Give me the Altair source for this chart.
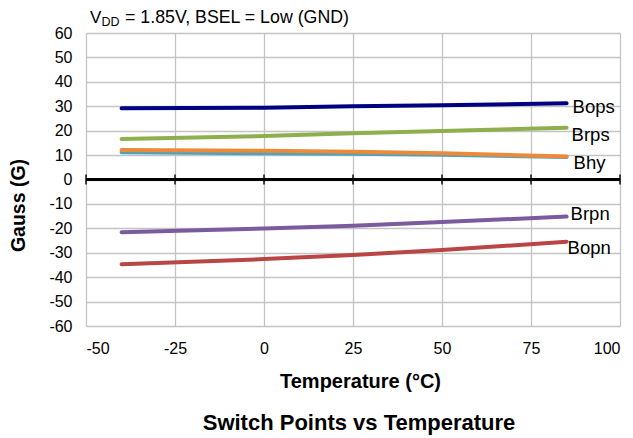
import altair as alt
import pandas as pd

temps = [-40, 0, 25, 50, 85]
bops = [29.2, 29.4, 30.0, 30.4, 31.2]
brps = [16.6, 17.8, 18.9, 19.9, 21.2]
bhyn = [11.2, 10.7, 10.5, 10.1, 9.2]
bhys = [12.1, 11.8, 11.4, 10.7, 9.4]
brpn = [-21.6, -20.1, -18.9, -17.4, -15.2]
bopn = [-34.7, -32.6, -30.9, -28.9, -25.5]

series_names = ["Bops", "Brps", "Bhyn", "Bhys", "Brpn", "Bopn"]
series_values = [bops, brps, bhyn, bhys, brpn, bopn]
series_colors = ["#000080", "#8db04c", "#4aa3c4", "#ec8a38", "#7a5c9e", "#b94644"]

end_labels = ["Bops", "Brps", "Bhy", None, "Brpn", "Bopn"]

x_ticks = [-50, -25, 0, 25, 50, 75, 100]
y_ticks = [-60, -50, -40, -30, -20, -10, 0, 10, 20, 30, 40, 50, 60]

title_main = "Switch Points vs Temperature"
sub_v = "V"
sub_dd = "DD"
sub_rest = "= 1.85V, BSEL = Low (GND)"

FONT = "Liberation Sans"

rows = []
for name, vals in zip(series_names, series_values):
    for t, v in zip(temps, vals):
        rows.append({"series": name, "temp": t, "gauss": v})
df = pd.DataFrame(rows)

xscale = alt.Scale(domain=[-50, 100], nice=False)
yscale = alt.Scale(domain=[-60, 60], nice=False)

xaxis = alt.Axis(values=x_ticks, title="Temperature (°C)", grid=True, gridColor="#c4c4c4",
                 gridWidth=1.3, domain=False, ticks=False, labelPadding=14, labelFontSize=16,
                 labelColor="#000", labelFont=FONT, labelExpr="'' + datum.value",
                 labelOverlap=False,
                 titleFont=FONT, titleFontSize=20, titleFontWeight="bold", titleColor="#000",
                 titleX=274, titleY=61, titleBaseline="alphabetic", titleAlign="center")
yaxis = alt.Axis(values=y_ticks, title="Gauss (G)", grid=True, gridColor="#c4c4c4",
                 gridWidth=1.3, domain=False, ticks=False, labelPadding=14, labelFontSize=16,
                 labelColor="#000", labelFont=FONT, labelExpr="'' + datum.value",
                 labelOverlap=False,
                 titleFont=FONT, titleFontSize=19.5, titleFontWeight="bold", titleColor="#000",
                 titleX=-62, titleY=172, titleBaseline="alphabetic", titleAlign="center",
                 titleAngle=270)

X = alt.X("temp:Q", scale=xscale, axis=xaxis)
Y = alt.Y("gauss:Q", scale=yscale, axis=yaxis)

layers = []

zero = alt.Chart(pd.DataFrame({"temp": x_ticks, "gauss": [0] * len(x_ticks)})).mark_rule(
    color="black", strokeWidth=2.5
).encode(y=Y)
ticks = alt.Chart(pd.DataFrame({"temp": x_ticks, "gauss": [0] * len(x_ticks)})).mark_tick(
    orient="vertical", size=10, thickness=2, color="black"
).encode(x=X, y=Y)
layers += [zero, ticks]

label_dx = [6, 5, 7, None, 4, 1]
label_dy = [4, 7, 6, None, -3, 6]

for name, color in zip(series_names, series_colors):
    layers.append(
        alt.Chart(df).transform_filter(alt.datum.series == name)
        .mark_line(color=color, strokeWidth=4, strokeCap="round")
        .encode(x=X, y=Y)
    )

for name, lab, dx, dy in zip(series_names, end_labels, label_dx, label_dy):
    if lab is None:
        continue
    layers.append(
        alt.Chart(df).transform_filter((alt.datum.series == name) & (alt.datum.temp == temps[-1]))
        .mark_text(text=lab, align="left", baseline="middle", dx=dx, dy=dy, fontSize=18.5,
                   font=FONT, color="#000")
        .encode(x=X, y=Y)
    )

def label(txt, x, y, size, weight="normal", align="left"):
    return alt.Chart(pd.DataFrame({"t": [txt]})).mark_text(
        align=align, baseline="alphabetic", fontSize=size, fontWeight=weight, font=FONT, color="#000"
    ).encode(text="t:N", x=alt.value(x), y=alt.value(y))

layers.append(label(sub_v, 4, -10, 17))
layers.append(label(sub_dd, 15.5, -7, 12.5))
layers.append(label(sub_rest, 39, -10, 17.8))
layers.append(label(title_main, 273, 397, 22, weight="bold", align="center"))

chart = alt.layer(*layers).properties(
    width=534, height=293,
    autosize=alt.AutoSizeParams(type="none"),
    padding={"left": 78, "top": 25, "right": 5, "bottom": 112},
).configure_view(stroke="#8c8c8c", strokeWidth=2).configure(font=FONT, background="white")

chart.save("out.html", embed_options={"renderer": "svg", "actions": False})
